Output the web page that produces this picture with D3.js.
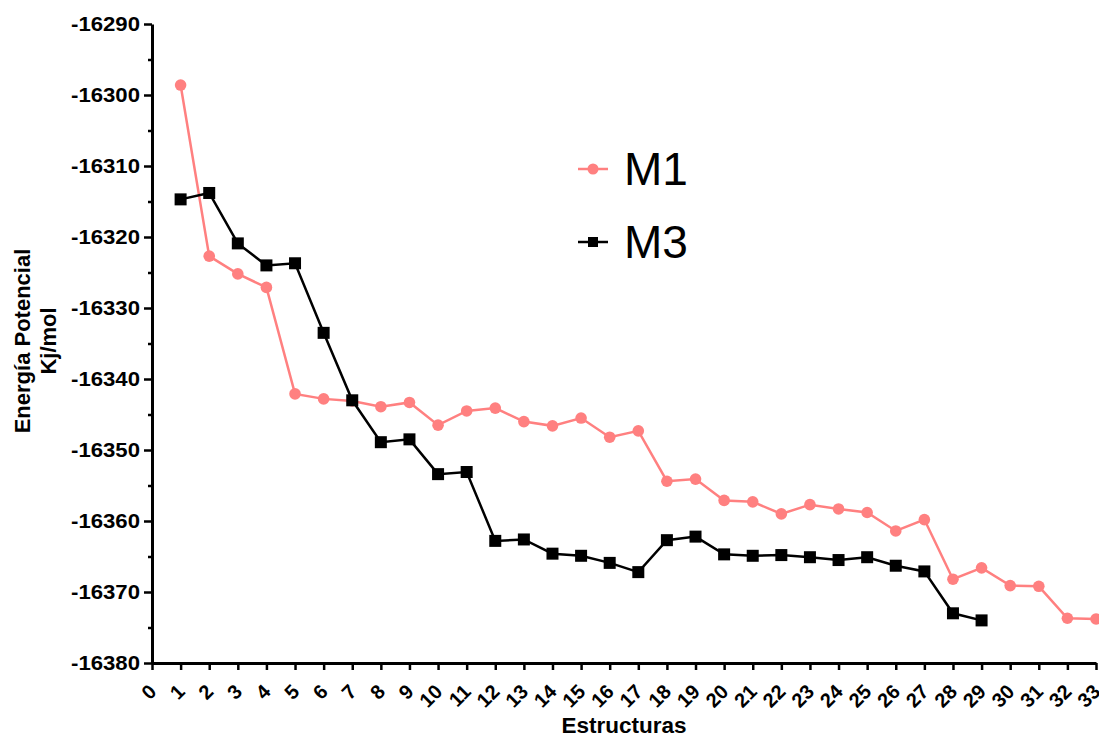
<!DOCTYPE html>
<html>
<head>
<meta charset="utf-8">
<script src="https://cdn.jsdelivr.net/npm/d3@7"></script>
<style>
  html, body { margin: 0; padding: 0; background: #ffffff; }
  svg { display: block; font-family: "Liberation Sans", Arial, sans-serif; }
</style>
</head>
<body>
<svg id="chart" width="1099" height="737"></svg>
<script>
// Potential energy (kJ/mol) per structure for two models
const structuresM1 = d3.range(1, 34);
const energyM1 = [
  -16298.6, -16322.7, -16325.2, -16327.1, -16342.1, -16342.8, -16343.1, -16343.9,
  -16343.3, -16346.5, -16344.5, -16344.1, -16346.0, -16346.6, -16345.5, -16348.2,
  -16347.3, -16354.4, -16354.1, -16357.1, -16357.3, -16359.0, -16357.7, -16358.3,
  -16358.8, -16361.4, -16359.8, -16368.2, -16366.6, -16369.1, -16369.2, -16373.7,
  -16373.8
];
const structuresM3 = d3.range(1, 30);
const energyM3 = [
  -16314.7, -16313.8, -16320.9, -16324.0, -16323.7, -16333.5, -16343.0, -16348.9,
  -16348.5, -16353.4, -16353.1, -16362.8, -16362.6, -16364.6, -16364.9, -16365.9,
  -16367.2, -16362.7, -16362.2, -16364.7, -16364.9, -16364.8, -16365.1, -16365.5,
  -16365.1, -16366.3, -16367.1, -16373.0, -16374.0
];
const yTicks = [-16380, -16370, -16360, -16350, -16340, -16330, -16320, -16310, -16300, -16290];
const yMinorTicks = [-16375, -16365, -16355, -16345, -16335, -16325, -16315, -16305, -16295];
const xTicks = d3.range(0, 34);
const seriesNames = ["M1", "M3"];

const colorM1 = "#ff8080";
const colorM3 = "#000000";

const svg = d3.select("#chart");

const x = d3.scaleLinear().domain([0, 33]).range([152, 1096]);
const y = d3.scaleLinear().domain([-16380, -16290]).range([663, 24]);

// ---- Y axis ----
const yAxisG = svg.append("g").attr("transform", `translate(${x(0)},0)`);
yAxisG.call(d3.axisLeft(y).tickValues(yTicks).tickSize(8).tickPadding(4)
  .tickFormat(d => String(d)).tickSizeOuter(0));
yAxisG.select(".domain").attr("stroke", "#000").attr("stroke-width", 3);
yAxisG.selectAll(".tick line").attr("stroke", "#000").attr("stroke-width", 2.5);
yAxisG.selectAll(".tick text")
  .attr("fill", "#000")
  .style("font-size", "20px")
  .style("font-weight", "bold")
  .attr("textLength", 69)
  .attr("lengthAdjust", "spacingAndGlyphs");

const yMinorG = svg.append("g").attr("transform", `translate(${x(0)},0)`);
yMinorG.call(d3.axisLeft(y).tickValues(yMinorTicks).tickSize(4).tickFormat(""));
yMinorG.select(".domain").remove();
yMinorG.selectAll(".tick line").attr("stroke", "#000").attr("stroke-width", 2.5);

// ---- X axis ----
const xAxisG = svg.append("g").attr("transform", `translate(0,${y(-16380)})`);
xAxisG.call(d3.axisBottom(x).tickValues(xTicks).tickSize(7)
  .tickFormat(d => String(d)).tickSizeOuter(0));
xAxisG.select(".domain").attr("stroke", "#000").attr("stroke-width", 3);
xAxisG.selectAll(".tick line").attr("stroke", "#000").attr("stroke-width", 2.5);
xAxisG.selectAll(".tick text")
  .attr("fill", "#000")
  .style("font-size", "20px")
  .style("font-weight", "bold")
  .attr("text-anchor", "end")
  .attr("dy", null)
  .attr("y", null)
  .attr("transform", "translate(5,30) rotate(-45)");

// ---- Axis titles ----
svg.append("text")
  .attr("x", x(16.5)).attr("y", 733)
  .attr("text-anchor", "middle")
  .style("font-size", "22.5px").style("font-weight", "bold")
  .text("Estructuras");

const yTitle = svg.append("text")
  .attr("transform", "translate(30,341) rotate(-90)")
  .attr("text-anchor", "middle")
  .style("font-size", "22px").style("font-weight", "bold");
yTitle.append("tspan").attr("x", 0).attr("y", 0).text("Energía Potencial");
yTitle.append("tspan").attr("x", 0).attr("y", 26).text("Kj/mol");

// ---- Series ----
const line = d3.line().x(d => x(d[0])).y(d => y(d[1]));
const dataM1 = structuresM1.map((s, i) => [s, energyM1[i]]);
const dataM3 = structuresM3.map((s, i) => [s, energyM3[i]]);

svg.append("path").datum(dataM1)
  .attr("d", line).attr("fill", "none")
  .attr("stroke", colorM1).attr("stroke-width", 2.5);
svg.append("g").selectAll("circle").data(dataM1).join("circle")
  .attr("cx", d => x(d[0])).attr("cy", d => y(d[1])).attr("r", 5.8)
  .attr("fill", colorM1);

svg.append("path").datum(dataM3)
  .attr("d", line).attr("fill", "none")
  .attr("stroke", colorM3).attr("stroke-width", 2.5);
const sq = 12;
svg.append("g").selectAll("rect").data(dataM3).join("rect")
  .attr("x", d => x(d[0]) - sq / 2).attr("y", d => y(d[1]) - sq / 2)
  .attr("width", sq).attr("height", sq)
  .attr("fill", colorM3);

// ---- Legend ----
const legend = svg.append("g");
const legendRows = [
  { name: seriesNames[0], color: colorM1, shape: "circle", cy: 169 },
  { name: seriesNames[1], color: colorM3, shape: "square", cy: 242 }
];
legendRows.forEach(r => {
  legend.append("line")
    .attr("x1", 578).attr("x2", 608).attr("y1", r.cy).attr("y2", r.cy)
    .attr("stroke", r.color).attr("stroke-width", 2.5);
  if (r.shape === "circle") {
    legend.append("circle").attr("cx", 593).attr("cy", r.cy).attr("r", 5.5).attr("fill", r.color);
  } else {
    legend.append("rect").attr("x", 588).attr("y", r.cy - 5).attr("width", 10).attr("height", 10).attr("fill", r.color);
  }
  legend.append("text")
    .attr("x", 624).attr("y", r.cy + 16)
    .style("font-size", "46px")
    .attr("fill", "#000")
    .text(r.name);
});
</script>
</body>
</html>
